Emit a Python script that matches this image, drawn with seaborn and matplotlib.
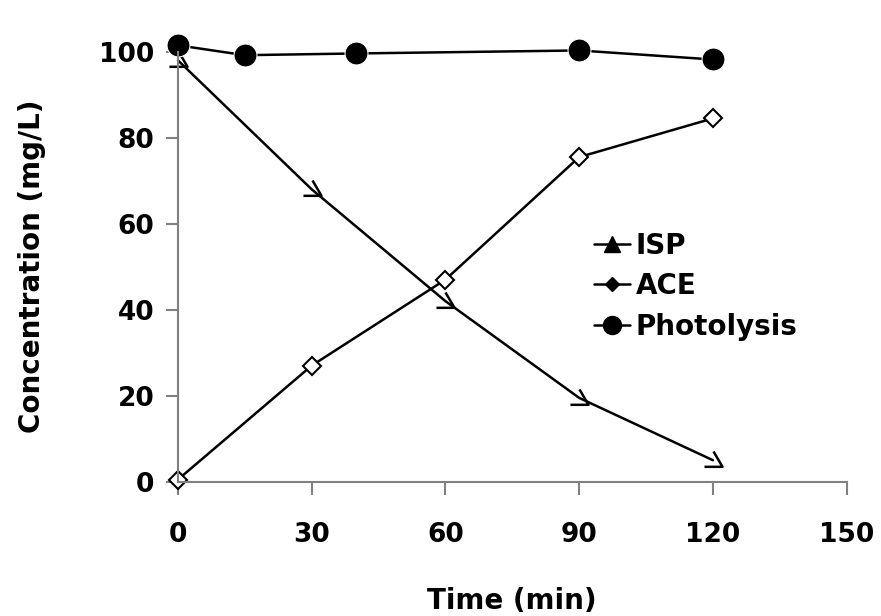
import numpy as np
import pandas as pd
import matplotlib
matplotlib.use("Agg")
import matplotlib.pyplot as plt
from matplotlib.path import Path
import seaborn as sns

sns.set_theme(style="white")
plt.rcParams['font.family'] = ['DejaVu Sans']
plt.rcParams['text.color'] = 'black'
plt.rcParams['xtick.color'] = 'black'
plt.rcParams['ytick.color'] = 'black'
plt.rcParams['axes.labelcolor'] = 'black'

# data
time_isp = [0, 30, 60, 90, 120]
isp = [98, 68, 42, 19.5, 5]
time_ace = [0, 30, 60, 90, 120]
ace = [0.5, 27, 47, 75.5, 84.5]
time_photo = [0, 15, 40, 90, 120]
photo = [101.5, 99.2, 99.6, 100.3, 98.2]

x_ticks = [0, 30, 60, 90, 120, 150]
y_ticks = [0, 20, 40, 60, 80, 100]

# open triangle drawn without its left edge, as in the original
tri_open = Path([(-1, -0.7), (1, -0.7), (0, 1.0)],
                [Path.MOVETO, Path.LINETO, Path.LINETO])

fig = plt.figure(figsize=(8.81, 6.16), dpi=100)
ax = fig.add_axes([0.202, 0.218, 0.759, 0.698])

sns.lineplot(x=time_isp, y=isp, ax=ax, color='black', lw=1.8,
             marker=tri_open, markersize=13, markerfacecolor='none',
             markeredgecolor='black', markeredgewidth=1.8, clip_on=False)
sns.lineplot(x=time_ace, y=ace, ax=ax, color='black', lw=1.8,
             marker='D', markersize=9, markerfacecolor='white',
             markeredgecolor='black', markeredgewidth=1.5, clip_on=False)
sns.lineplot(x=time_photo, y=photo, ax=ax, color='black', lw=1.8,
             marker='o', markersize=16.5, clip_on=False)

# legend uses filled markers
h1, = ax.plot([], [], color='black', lw=1.8, marker='^', markersize=11)
h2, = ax.plot([], [], color='black', lw=1.8, marker='D', markersize=7)
h3, = ax.plot([], [], color='black', lw=1.8, marker='o', markersize=13)
leg = ax.legend([h1, h2, h3], ['ISP', 'ACE', 'Photolysis'],
                loc='center left', bbox_to_anchor=(0.585, 0.455),
                frameon=False, handlelength=1.3, handletextpad=0.2,
                labelspacing=0.45, prop={'weight': 'bold', 'size': 20})

ax.set_xlim(0, 150)
ax.set_ylim(0, 100)
ax.set_xticks(x_ticks)
ax.set_yticks(y_ticks)
ax.tick_params(axis='both', direction='out', length=9, width=1.5,
               color='#808080', labelsize=19, pad=8,
               bottom=True, left=True)
ax.tick_params(axis='x', pad=20)
for lab in ax.get_xticklabels() + ax.get_yticklabels():
    lab.set_fontweight('bold')

for side in ['top', 'right']:
    ax.spines[side].set_visible(False)
for side in ['left', 'bottom']:
    ax.spines[side].set_color('#808080')
    ax.spines[side].set_linewidth(1.5)

ax.set_xlabel('Time (min)', fontsize=20, fontweight='bold', labelpad=28)
ax.set_ylabel('Concentration (mg/L)', fontsize=20, fontweight='bold', labelpad=38)

fig.savefig('out.png', dpi=100)
